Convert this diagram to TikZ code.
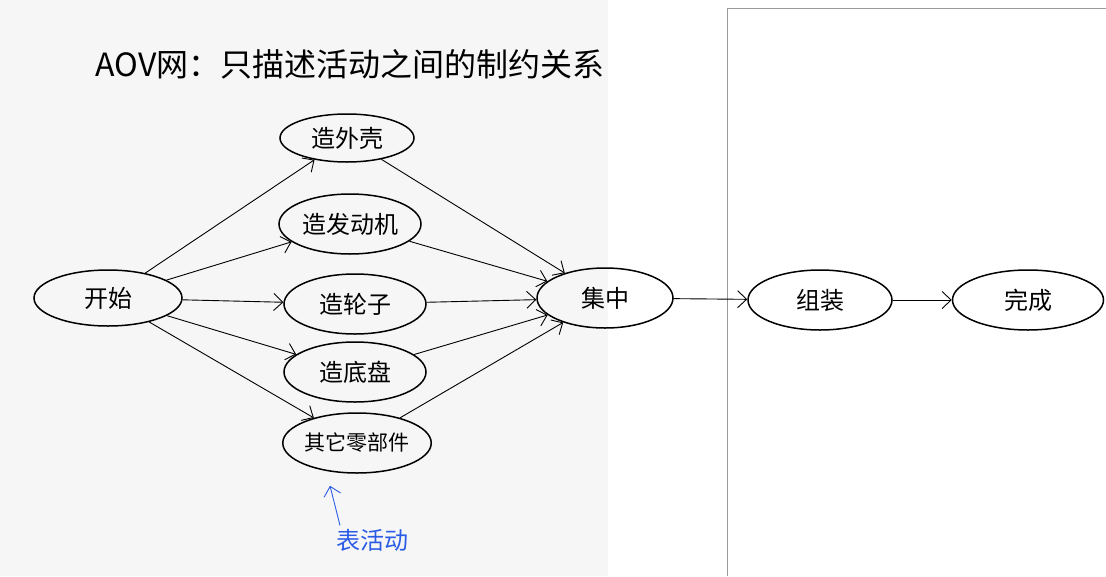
\documentclass[tikz,border=0pt]{standalone}
\usepackage{fontspec}
\newfontfamily\cjk{Noto Sans CJK SC}
\usetikzlibrary{shapes,arrows.meta,positioning}
\definecolor{paper}{HTML}{F6F6F6}
\definecolor{pen}{HTML}{2B5CE6}

\begin{document}
\begin{tikzpicture}[x=1pt, y=-1pt, every node/.style={font=\cjk},
        act/.style={ellipse, draw, line width=1.5pt, minimum width=142pt, minimum height=60pt, inner sep=0pt, font=\cjk\fontsize{24}{28}\selectfont},
        edge/.style={-{Straight Barb[length=9pt,width=17pt]}, line width=0.9pt}]
            \useasboundingbox (0,0) rectangle (1106,576);
            \fill[paper] (0,0) rectangle (608,576);
            \draw[gray!80, line width=0.8pt] (727,576) -- (727,8) -- (1106,8);

            \node[font=\cjk\fontsize{32}{36}\selectfont] (title) at (350,64) {AOV网：只描述活动之间的制约关系};

            \node[act, minimum width=148pt, minimum height=56pt] (start) at (108,298) {开始};
            \node[act, minimum width=134pt, minimum height=48pt] (shell) at (347,138) {造外壳};
            \node[act] (engine) at (350,224) {造发动机};
            \node[act] (wheel) at (355,304) {造轮子};
            \node[act] (chassis) at (355,372) {造底盘};
            \node[act, minimum width=144pt, font=\cjk\fontsize{21}{24}\selectfont] (parts) at (357,443) {其它零部件};
            \node[act, minimum width=136pt] (gather) at (605,298) {集中};
            \node[act, minimum width=144pt] (build) at (820,300) {组装};
            \node[act, minimum width=151pt] (done) at (1028,300) {完成};

            \node[text=pen, font=\cjk\fontsize{24}{28}\selectfont] (note) at (372,540) {表活动};

            \draw[edge] (start) -- (shell);
            \draw[edge] (start) -- (engine);
            \draw[edge] (start) -- (wheel);
            \draw[edge] (start) -- (chassis);
            \draw[edge] (start) -- (parts);
            \draw[edge] (shell) -- (gather);
            \draw[edge] (engine) -- (gather);
            \draw[edge] (wheel) -- (gather);
            \draw[edge] (chassis) -- (gather);
            \draw[edge] (parts) -- (gather);
            \draw[edge] (gather) -- (build);
            \draw[edge] (build) -- (done);
            \draw[edge, pen] ([xshift=-32pt]note.north) -- ([xshift=-27pt, yshift=-12pt]parts.south);
        \end{tikzpicture}
\end{document}
